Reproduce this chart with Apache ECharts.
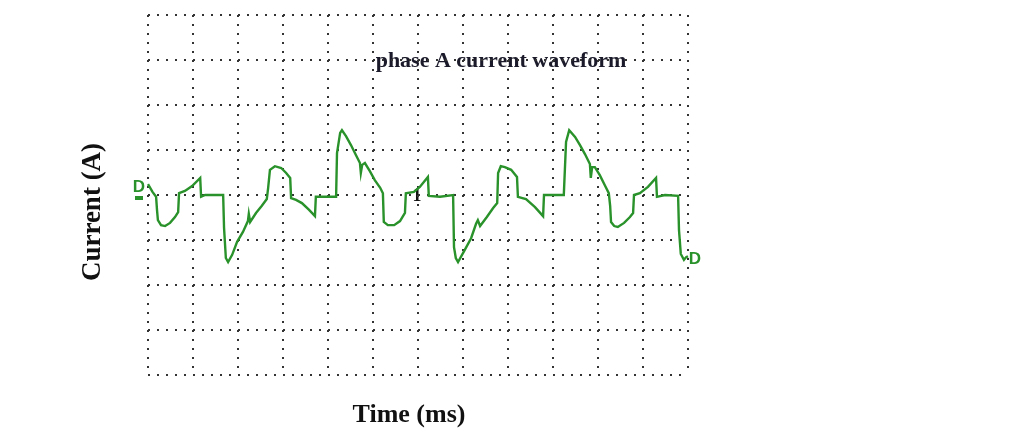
<!DOCTYPE html>
<html>
<head>
<meta charset="utf-8">
<script src="https://cdn.jsdelivr.net/npm/echarts@6/dist/echarts.min.js"></script>
<style>html,body{margin:0;padding:0;background:#fff;}#c{width:1009px;height:443px;}</style>
</head>
<body>
<div id="c"></div>
<script>
// time in grid divisions (0..12), current in grid divisions (-4..4)
const timeDiv = [0,0.10,0.18,0.20,0.22,0.29,0.38,0.49,0.60,0.67,0.69,0.82,0.98,1.16,1.18,1.27,1.49,1.67,1.69,1.73,1.78,1.87,1.98,2.11,2.22,2.24,2.27,2.40,2.53,2.64,2.67,2.71,2.82,2.96,3.07,3.16,3.18,3.29,3.42,3.58,3.71,3.73,3.93,4.18,4.20,4.27,4.31,4.40,4.51,4.62,4.71,4.73,4.76,4.82,4.93,5.04,5.16,5.22,5.24,5.33,5.47,5.60,5.71,5.73,5.91,6.04,6.22,6.24,6.49,6.78,6.80,6.84,6.89,7.04,7.18,7.29,7.33,7.38,7.53,7.67,7.76,7.78,7.84,7.93,8.07,8.20,8.22,8.40,8.60,8.78,8.80,9.04,9.24,9.29,9.36,9.49,9.60,9.71,9.82,9.84,9.87,9.93,10.04,10.16,10.24,10.27,10.29,10.36,10.44,10.58,10.71,10.78,10.80,10.93,11.11,11.29,11.31,11.49,11.78,11.80,11.84,11.91,11.96,12.0];
const currentDiv = [0.24,0.07,-0.04,-0.33,-0.56,-0.67,-0.69,-0.62,-0.49,-0.38,0.04,0.09,0.20,0.38,-0.04,0,0,0,-0.73,-1.40,-1.49,-1.33,-1.04,-0.82,-0.58,-0.42,-0.60,-0.40,-0.24,-0.09,0.16,0.56,0.64,0.60,0.49,0.38,-0.07,-0.11,-0.18,-0.33,-0.47,-0.04,-0.04,-0.04,0.93,1.38,1.44,1.31,1.11,0.89,0.71,0.49,0.67,0.71,0.53,0.33,0.16,0.04,-0.60,-0.67,-0.67,-0.58,-0.40,0.04,0.07,0.18,0.40,-0.02,-0.04,0,-1.16,-1.40,-1.49,-1.22,-0.96,-0.64,-0.56,-0.69,-0.49,-0.29,-0.18,0.49,0.64,0.62,0.56,0.40,-0.04,-0.09,-0.27,-0.47,0,0,0,1.18,1.44,1.29,1.11,0.91,0.69,0.38,0.62,0.62,0.44,0.20,0.04,-0.24,-0.60,-0.69,-0.71,-0.62,-0.49,-0.40,0,0.04,0.18,0.38,-0.04,0,-0.02,-0.78,-1.31,-1.44,-1.38,-1.36];
const titleText = 'phase A current waveform';
const xName = 'Time (ms)';
const yName = 'Current (A)';

const chart = echarts.init(document.getElementById('c'));
const dotStyle = {color:'#333', width:2, type:[2,7]};
chart.setOption({
  animation:false,
  backgroundColor:'#fff',
  grid:{left:148, top:15, width:540, height:360},
  xAxis:{type:'value', min:0, max:12, interval:1,
    axisLine:{show:false}, axisTick:{show:false}, axisLabel:{show:false},
    splitLine:{show:true, showMinLine:true, showMaxLine:true, lineStyle:dotStyle}},
  yAxis:{type:'value', min:-4, max:4, interval:1,
    axisLine:{show:false}, axisTick:{show:false}, axisLabel:{show:false},
    splitLine:{show:true, showMinLine:true, showMaxLine:true, lineStyle:dotStyle}},
  series:[{type:'line', data:timeDiv.map((t,i)=>[t,currentDiv[i]]),
    showSymbol:false, symbol:'none', lineStyle:{color:'#2a922a', width:2.4, join:'miter'}}],
  graphic:[
    {type:'text', x:501, y:61, style:{text:titleText, font:'bold 22px "Liberation Serif"', fill:'#1a1a2a', textAlign:'center', textVerticalAlign:'middle'}},
    {type:'text', x:409, y:415, style:{text:xName, font:'bold 26px "Liberation Serif"', fill:'#111', textAlign:'center', textVerticalAlign:'middle'}},
    {type:'text', x:93, y:212, rotation:Math.PI/2, style:{text:yName, font:'bold 27px "Liberation Serif"', fill:'#111', textAlign:'center', textVerticalAlign:'middle'}},
    {type:'text', x:139, y:187, style:{text:'D', font:'bold 17px "Liberation Sans"', fill:'#2a922a', textAlign:'center', textVerticalAlign:'middle'}},
    {type:'rect', shape:{x:135, y:196, width:8, height:4}, style:{fill:'#2a922a'}},
    {type:'text', x:695, y:259, style:{text:'D', font:'bold 17px "Liberation Sans"', fill:'#2a922a', textAlign:'center', textVerticalAlign:'middle'}},
    {type:'text', x:417, y:196, style:{text:'1', font:'bold 18px "Liberation Serif"', fill:'#111', textAlign:'center', textVerticalAlign:'middle'}}
  ]
});
</script>
</body>
</html>
